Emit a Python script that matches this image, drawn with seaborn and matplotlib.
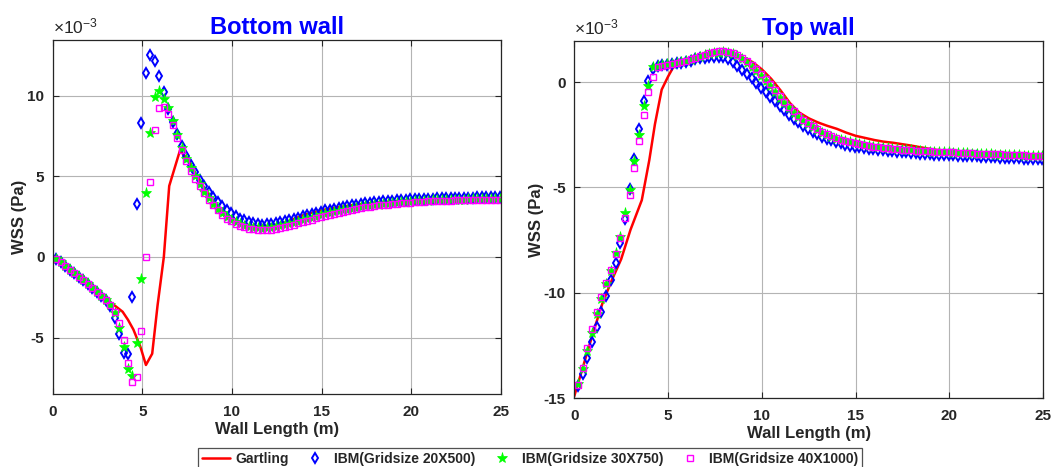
import numpy as np
import pandas as pd
import matplotlib
matplotlib.use('Agg')
import matplotlib.pyplot as plt
import seaborn as sns

# wall shear stress, in units of 1e-3 Pa
# markers are sampled every 0.25 m starting at 0.2 m
x_start = 0.2
x_step = 0.25

# ---- bottom wall ----
bot_gartling_x = [0, 0.5, 1, 1.5, 2, 2.5, 3, 3.2, 3.5, 3.9, 4.2, 4.5, 4.9, 5.2, 5.55, 5.85, 6.2, 6.5,
                  7.1, 7.5, 8, 8.5, 9, 9.5, 10, 10.5, 11, 11.5, 12, 12.5, 13, 14, 15, 16, 17, 18, 19,
                  20, 21, 22, 23, 24, 25]
bot_gartling_y = [0, -0.45, -0.9, -1.35, -1.8, -2.25, -2.7, -2.8, -3.05, -3.4, -3.9, -4.5, -5.6, -6.7,
                  -6.0, -3.0, 0.0, 4.4, 6.6, 6.1, 5.1, 4.2, 3.4, 2.8, 2.4, 2.1, 1.95, 1.9, 1.92, 2.0,
                  2.15, 2.6, 2.9, 3.1, 3.25, 3.36, 3.45, 3.52, 3.56, 3.59, 3.61, 3.62, 3.62]
bot_ibm20 = [-0.1, -0.33, -0.55, -0.78, -1.0, -1.23, -1.46, -1.69, -1.93, -2.17, -2.42, -2.7, -3.05,
             -3.8, -4.77, -5.97, -6.05, -2.46, 3.29, 8.29, 11.4, 12.5, 12.15, 11.24, 10.2, 9.2,
             8.35, 7.6, 6.85, 6.25, 5.7, 5.25, 4.8, 4.4, 4.05, 3.72, 3.42, 3.15, 2.9, 2.7, 2.52, 2.38,
             2.26, 2.16, 2.08, 2.03, 2.01, 2.02, 2.05, 2.09, 2.14, 2.2, 2.27, 2.35, 2.43, 2.51, 2.59,
             2.67, 2.74, 2.81, 2.88, 2.94, 3.0, 3.06, 3.11, 3.16, 3.2, 3.24, 3.28, 3.32, 3.35, 3.38,
             3.41, 3.44, 3.47, 3.49, 3.51, 3.53, 3.55, 3.57, 3.58, 3.59, 3.6, 3.61, 3.62, 3.63, 3.64,
             3.65, 3.66, 3.66, 3.67, 3.67, 3.68, 3.68, 3.69, 3.69, 3.7, 3.7, 3.7, 3.71]
bot_ibm30 = [-0.1, -0.33, -0.55, -0.78, -1.0, -1.23, -1.46, -1.69, -1.93, -2.17, -2.42, -2.68, -2.98,
             -3.45, -4.42, -5.56, -6.96, -7.36, -5.35, -1.36, 3.99, 7.7, 9.9, 10.31, 9.78, 9.26,
             8.4, 7.55, 6.75, 6.1, 5.5, 5.0, 4.5, 4.05, 3.65, 3.3, 3.0, 2.72, 2.48, 2.3, 2.15, 2.02,
             1.92, 1.85, 1.8, 1.77, 1.76, 1.77, 1.8, 1.84, 1.89, 1.95, 2.02, 2.1, 2.18, 2.26, 2.34,
             2.42, 2.5, 2.57, 2.64, 2.71, 2.77, 2.83, 2.89, 2.94, 2.99, 3.04, 3.09, 3.13, 3.17, 3.21,
             3.24, 3.27, 3.3, 3.33, 3.36, 3.38, 3.4, 3.42, 3.44, 3.46, 3.47, 3.49, 3.5, 3.51, 3.52,
             3.53, 3.54, 3.55, 3.56, 3.56, 3.57, 3.57, 3.58, 3.58, 3.59, 3.59, 3.6, 3.6]
bot_ibm40 = [-0.1, -0.33, -0.55, -0.78, -1.0, -1.23, -1.46, -1.69, -1.93, -2.17, -2.42, -2.68, -2.98,
             -3.42, -4.07, -5.15, -6.59, -7.77, -7.42, -4.59, 0.02, 4.67, 7.85, 9.26, 9.32, 8.87,
             8.2, 7.4, 6.6, 5.95, 5.35, 4.85, 4.4, 3.95, 3.55, 3.2, 2.9, 2.62, 2.38, 2.2, 2.05, 1.93,
             1.83, 1.76, 1.71, 1.68, 1.67, 1.68, 1.7, 1.74, 1.79, 1.85, 1.92, 2.0, 2.08, 2.16, 2.24,
             2.32, 2.4, 2.48, 2.55, 2.62, 2.69, 2.75, 2.81, 2.87, 2.92, 2.97, 3.02, 3.07, 3.11, 3.15,
             3.19, 3.22, 3.25, 3.28, 3.31, 3.33, 3.35, 3.37, 3.39, 3.41, 3.42, 3.44, 3.45, 3.46, 3.47,
             3.48, 3.49, 3.5, 3.51, 3.51, 3.52, 3.52, 3.53, 3.53, 3.54, 3.54, 3.55, 3.55]

# ---- top wall ----
top_gartling_x = [0, 0.5, 1, 1.5, 2, 2.5, 3, 3.6, 4.0, 4.3, 4.66, 5.0, 5.3, 6, 7, 8, 8.5, 9, 9.5, 10,
                  10.5, 11, 11.5, 12, 12.5, 13, 13.5, 14, 14.5, 15, 15.5, 16, 16.5, 17, 17.5, 18,
                  18.5, 19, 20, 21, 22, 23, 24, 25]
top_gartling_y = [-14.9, -13.4, -11.9, -10.5, -9.4, -8.4, -7.0, -5.6, -3.7, -2.0, -0.36, 0.26, 0.74,
                  0.9, 1.2, 1.4, 1.3, 1.15, 0.95, 0.6, 0.15, -0.4, -1.0, -1.45, -1.72, -1.92, -2.08,
                  -2.22, -2.4, -2.55, -2.65, -2.75, -2.83, -2.88, -2.95, -3.02, -3.1, -3.18, -3.3,
                  -3.38, -3.44, -3.5, -3.55, -3.6]
top_ibm20 = [-14.4, -13.85, -13.1, -12.31, -11.6, -10.93, -10.14, -9.4, -8.57, -7.63, -6.5, -5.05,
             -3.67, -2.25, -0.92, 0.03, 0.6, 0.75,
             0.79, 0.82, 0.85, 0.88, 0.92, 0.97, 1.02, 1.07, 1.12, 1.16, 1.19, 1.2, 1.2, 1.17, 1.08,
             0.95, 0.78, 0.58, 0.38, 0.17, -0.04, -0.26, -0.48, -0.7, -0.92, -1.13, -1.34, -1.54,
             -1.73, -1.91, -2.07, -2.22, -2.36, -2.48, -2.59, -2.69, -2.77, -2.85, -2.91, -2.97,
             -3.02, -3.06, -3.1, -3.13, -3.16, -3.19, -3.22, -3.24, -3.26, -3.28, -3.3, -3.32, -3.34,
             -3.36, -3.38, -3.39, -3.41, -3.42, -3.44, -3.45, -3.46, -3.47, -3.48, -3.49, -3.5,
             -3.51, -3.52, -3.53, -3.54, -3.55, -3.56, -3.57, -3.58, -3.59, -3.6, -3.61, -3.62,
             -3.63, -3.64, -3.65, -3.66, -3.67]
top_ibm30 = [-14.3, -13.6, -12.75, -11.9, -11.0, -10.3, -9.6, -8.95, -8.1, -7.33, -6.19, -5.13,
             -3.74, -2.49, -1.15, -0.2, 0.7,
             0.78, 0.81, 0.84, 0.87, 0.9, 0.94, 0.99, 1.05, 1.12, 1.19, 1.26, 1.32, 1.37, 1.4, 1.41,
             1.39, 1.33, 1.23, 1.09, 0.92, 0.73, 0.52, 0.29, 0.05, -0.2, -0.47, -0.75, -1.01, -1.25,
             -1.47, -1.67, -1.85, -2.01, -2.15, -2.28, -2.4, -2.51, -2.6, -2.68, -2.75, -2.81, -2.86,
             -2.91, -2.96, -3.0, -3.04, -3.07, -3.1, -3.13, -3.15, -3.17, -3.19, -3.21, -3.23, -3.24,
             -3.26, -3.27, -3.29, -3.3, -3.31, -3.32, -3.33, -3.34, -3.35, -3.36, -3.37, -3.38,
             -3.39, -3.4, -3.41, -3.42, -3.43, -3.44, -3.44, -3.45, -3.46, -3.47, -3.48, -3.49,
             -3.5, -3.51, -3.51, -3.52]
top_ibm40 = [-14.36, -13.54, -12.63, -11.72, -10.9, -10.19, -9.51, -8.9, -8.15, -7.39, -6.46, -5.36,
             -4.1, -2.8, -1.54, -0.46, 0.26,
             0.72, 0.78, 0.82, 0.86, 0.9, 0.95, 1.0, 1.07, 1.14, 1.22, 1.3, 1.37, 1.42, 1.45, 1.45,
             1.42, 1.36, 1.27, 1.14, 0.98, 0.8, 0.6, 0.38, 0.15, -0.1, -0.38, -0.66, -0.93, -1.17,
             -1.39, -1.6, -1.8, -1.96, -2.1, -2.24, -2.37, -2.48, -2.58, -2.66, -2.73, -2.79, -2.85,
             -2.9, -2.95, -2.99, -3.03, -3.06, -3.09, -3.12, -3.14, -3.16, -3.18, -3.2, -3.22, -3.23,
             -3.25, -3.26, -3.28, -3.29, -3.3, -3.31, -3.32, -3.33, -3.34, -3.35, -3.36, -3.37,
             -3.38, -3.39, -3.4, -3.41, -3.42, -3.43, -3.43, -3.44, -3.45, -3.46, -3.47, -3.48,
             -3.49, -3.5, -3.5, -3.51]

labels = ['Gartling', 'IBM(Gridsize 20X500)', 'IBM(Gridsize 30X750)', 'IBM(Gridsize 40X1000)']

sns.set_style('ticks')
plt.rcParams['font.family'] = ['Liberation Sans', 'DejaVu Sans']
plt.rcParams['font.weight'] = 'bold'
plt.rcParams['axes.labelweight'] = 'bold'
plt.rcParams['mathtext.default'] = 'regular'
plt.rcParams['axes.unicode_minus'] = False

dark = '#262626'


def marker_x(vals):
    return x_start + x_step * np.arange(len(vals))


def draw_panel(ax, title, gx, gy, s20, s30, s40, ylim, yticks):
    sns.lineplot(x=gx, y=gy, ax=ax, color='#ff0000', lw=1.8, label=labels[0],
                 errorbar=None, sort=False)
    sns.lineplot(x=marker_x(s20), y=s20, ax=ax, color='#0000ff', linestyle='', marker='d',
                 ms=5.4, mfc='none', mec='#0000ff', mew=1.4, label=labels[1], errorbar=None, sort=False)
    sns.lineplot(x=marker_x(s30), y=s30, ax=ax, color='#00ff00', linestyle='', marker='*',
                 ms=8, mfc='#00ff00', mec='#00ff00', mew=0.5, label=labels[2], errorbar=None, sort=False)
    sns.lineplot(x=marker_x(s40), y=s40, ax=ax, color='#ff00ff', linestyle='', marker='s',
                 ms=4.3, mfc='none', mec='#ff00ff', mew=1.0, label=labels[3], errorbar=None, sort=False)
    ax.set_xlim(0, 25)
    ax.set_ylim(*ylim)
    ax.set_xticks([0, 5, 10, 15, 20, 25])
    ax.set_yticks(yticks)
    ax.grid(True, color='#b4b4b4', lw=0.8)
    ax.set_axisbelow(True)
    for sp in ax.spines.values():
        sp.set_visible(True)
        sp.set_color(dark)
        sp.set_linewidth(0.9)
    ax.tick_params(direction='in', length=4, top=True, right=True, colors=dark,
                   labelsize=11, width=0.8)
    ax.tick_params(axis='x', pad=8)
    ax.tick_params(axis='y', pad=6)
    for t in ax.get_xticklabels() + ax.get_yticklabels():
        t.set_fontweight('bold')
    ax.set_xlabel('Wall Length (m)', fontsize=12, color=dark, labelpad=2)
    ax.set_ylabel('WSS (Pa)', fontsize=12, color=dark, labelpad=0)
    ax.set_title(title, fontsize=17, fontweight='bold', color='#0000ff', pad=4)
    ax.text(0, 1.01, r'$\times10^{-3}$', transform=ax.transAxes, fontsize=12.5,
            color=dark, ha='left', va='bottom', fontweight='normal')
    if ax.get_legend() is not None:
        ax.get_legend().remove()


fig = plt.figure(figsize=(10.57, 4.67), dpi=100)
ax1 = fig.add_axes([0.0499, 0.1563, 0.4238, 0.758])
ax2 = fig.add_axes([0.5433, 0.1471, 0.4437, 0.7657])

draw_panel(ax1, 'Bottom wall', bot_gartling_x, bot_gartling_y, bot_ibm20, bot_ibm30, bot_ibm40,
           (-8.5, 13.45), [-5, 0, 5, 10])
draw_panel(ax2, 'Top wall', top_gartling_x, top_gartling_y, top_ibm20, top_ibm30, top_ibm40,
           (-15, 1.96), [-15, -10, -5, 0])

handles, labs = ax1.get_legend_handles_labels()
leg = fig.legend(handles, labs, loc='upper center', bbox_to_anchor=(0.5014, 0.0555), ncol=4,
                 fontsize=10, frameon=True, fancybox=False, handlelength=2, handletextpad=0.4,
                 columnspacing=0.9, borderpad=0.3)
leg.get_frame().set_edgecolor(dark)
leg.get_frame().set_linewidth(0.9)
for t in leg.get_texts():
    t.set_fontweight('bold')
    t.set_color(dark)

fig.savefig('out.png', dpi=100, facecolor='white')
